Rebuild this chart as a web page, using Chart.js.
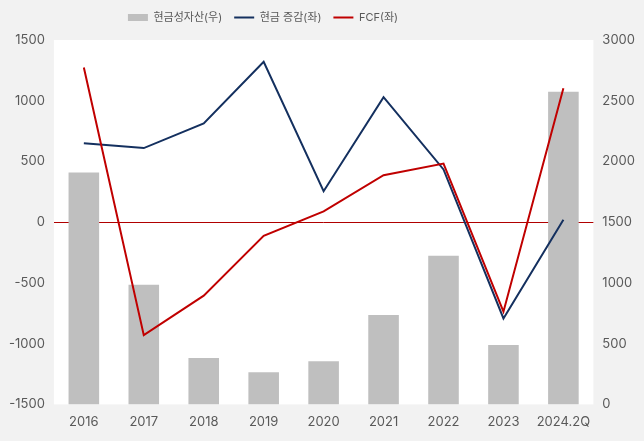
<!DOCTYPE html>
<html>
<head>
<meta charset="utf-8">
<script src="https://cdn.jsdelivr.net/npm/chart.js@4"></script>
<style>
    html, body { margin: 0; padding: 0; background: #f2f2f2; }
    #wrap { width: 644px; height: 441px; }
</style>
</head>
<body>
<div id="wrap"><canvas id="chart"></canvas></div>
<script>
// categories on the x axis
const years = ['2016', '2017', '2018', '2019', '2020', '2021', '2022', '2023', '2024.2Q'];

// 현금성자산 (right axis)
const cashAssets = [1910, 985, 383, 264, 355, 735, 1223, 488, 2573];

// 현금 증감 (left axis)
const cashChange = [649, 610, 814, 1321, 255, 1029, 434, -792, 21];

// FCF (left axis)
const fcf = [1274, -930, -605, -112, 89, 387, 483, -737, 1103];

const fontFamily = "Inter, 'Noto Sans CJK KR', sans-serif";
const textColor = '#595959';

// paints the plot area white on top of the grey page
const plotBackground = {
    id: 'plotBackground',
    beforeDraw(chart) {
        const { ctx, chartArea } = chart;
        ctx.save();
        ctx.fillStyle = '#ffffff';
        ctx.fillRect(chartArea.left, chartArea.top, chartArea.right - chartArea.left, chartArea.bottom - chartArea.top);
        ctx.restore();
    }
};

// more room under the legend, and the legend sits left of centre
const legendPlacement = {
    id: 'legendPlacement',
    beforeInit(chart) {
        const fit = chart.legend.fit;
        chart.legend.fit = function () {
            fit.bind(chart.legend)();
            this.height += 7;
        };
    },
    afterLayout(chart) {
        const legend = chart.legend;
        legend.right = legend.left + 526;
        legend.width = 526;
    }
};

const plainNumber = (value) => String(value);

const context = document.getElementById('chart').getContext('2d');

new Chart(context, {
    data: {
        labels: years,
        datasets: [
            {
                type: 'line',
                label: 'FCF(좌)',
                data: fcf,
                yAxisID: 'y',
                borderColor: '#c00000',
                backgroundColor: '#c00000',
                borderWidth: 2,
                pointRadius: 0,
                pointStyle: 'line',
                tension: 0,
                order: 1
            },
            {
                type: 'line',
                label: '현금 증감(좌)',
                data: cashChange,
                yAxisID: 'y',
                borderColor: '#14305f',
                backgroundColor: '#14305f',
                borderWidth: 2,
                pointRadius: 0,
                pointStyle: 'line',
                tension: 0,
                order: 2
            },
            {
                type: 'bar',
                label: '현금성자산(우)',
                data: cashAssets,
                yAxisID: 'y1',
                backgroundColor: '#bfbfbf',
                borderWidth: 0,
                pointStyle: 'rect',
                categoryPercentage: 1,
                barPercentage: 0.51,
                order: 3
            }
        ]
    },
    options: {
        responsive: true,
        maintainAspectRatio: false,
        animation: false,
        layout: { padding: { left: 0, right: 0, top: 0, bottom: 1 } },
        plugins: {
            legend: {
                position: 'top',
                reverse: true,
                labels: {
                    usePointStyle: true,
                    pointStyleWidth: 20,
                    boxHeight: 7,
                    padding: 12,
                    color: textColor,
                    font: { family: fontFamily, size: 11 }
                }
            },
            tooltip: { enabled: false }
        },
        scales: {
            x: {
                grid: { display: false, drawTicks: false },
                border: { display: false },
                ticks: {
                    color: textColor,
                    font: { family: fontFamily, size: 13 },
                    padding: 10,
                    maxRotation: 0,
                    autoSkip: false
                }
            },
            y: {
                position: 'left',
                min: -1500,
                max: 1500,
                border: { display: false },
                grid: {
                    drawTicks: false,
                    lineWidth: 1,
                    color: (c) => c.tick && c.tick.value === 0 ? '#b00000' : 'transparent'
                },
                ticks: { stepSize: 500, color: textColor, font: { family: fontFamily, size: 13 }, padding: 9, callback: plainNumber }
            },
            y1: {
                position: 'right',
                min: 0,
                max: 3000,
                border: { display: false },
                grid: { display: false, drawTicks: false },
                ticks: { stepSize: 500, color: textColor, font: { family: fontFamily, size: 13 }, padding: 9, callback: plainNumber }
            }
        }
    },
    plugins: [plotBackground, legendPlacement]
});
</script>
</body>
</html>
